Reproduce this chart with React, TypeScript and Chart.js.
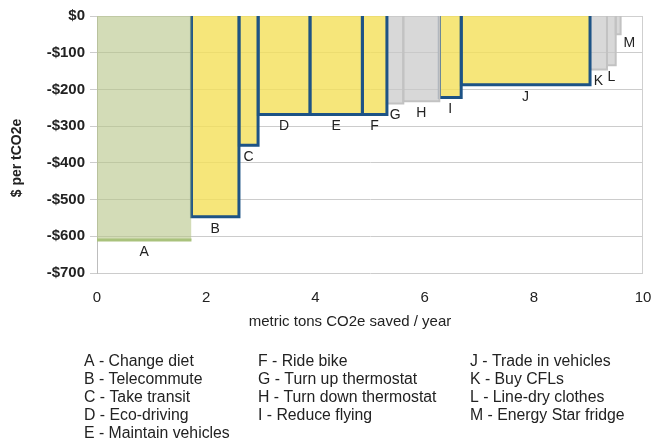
import React, { useEffect, useRef } from "react";
import { Chart, registerables } from "chart.js";

Chart.register(...registerables);

// ---- data ----
const letters = ["A", "B", "C", "D", "E", "F", "G", "H", "I", "J", "K", "L", "M"];
const actions = [
  "Change diet",
  "Telecommute",
  "Take transit",
  "Eco-driving",
  "Maintain vehicles",
  "Ride bike",
  "Turn up thermostat",
  "Turn down thermostat",
  "Reduce flying",
  "Trade in vehicles",
  "Buy CFLs",
  "Line-dry clothes",
  "Energy Star fridge",
];
// tCO2e saved per year (bar widths)
const savings = [1.73, 0.87, 0.35, 0.95, 0.96, 0.45, 0.3, 0.66, 0.4, 2.36, 0.31, 0.16, 0.09];
// $ per tCO2e (bar heights)
const costs = [-610, -547, -352, -268, -268, -268, -238, -232, -222, -187, -146, -134, -50];
const groups = ["diet", "travel", "travel", "travel", "travel", "travel", "home", "home", "travel", "travel", "home", "home", "home"];
const yTickValues = [0, -100, -200, -300, -400, -500, -600, -700];
const xTickValues = [0, 2, 4, 6, 8, 10];
const yTitle = "$ per tCO2e";
const xTitle = "metric tons CO2e saved / year";
const legendColumns = [
  [0, 1, 2, 3, 4],
  [5, 6, 7, 8],
  [9, 10, 11, 12],
];

const FONT = "'Liberation Sans', Arial, sans-serif";

const styles: Record<string, { fill: string; border: string; width: number }> = {
  diet: { fill: "rgba(182,197,135,0.6)", border: "#a9c27c", width: 3 },
  travel: { fill: "rgba(244,224,89,0.8)", border: "#1d5386", width: 3 },
  home: { fill: "rgba(200,200,200,0.7)", border: "#c2c2c2", width: 2 },
};

function starts(): number[] {
  const s: number[] = [];
  let acc = 0;
  for (const w of savings) {
    s.push(acc);
    acc += w;
  }
  return s;
}

export default function App() {
  const ref = useRef<HTMLCanvasElement | null>(null);

  useEffect(() => {
    const canvas = ref.current;
    if (!canvas) return;
    const st = starts();

    const datasets = savings.map((w, i) => {
      const x0 = st[i];
      const x1 = x0 + w;
      const v = costs[i];
      const s = styles[groups[i]];
      const data =
        groups[i] === "diet"
          ? [
              { x: x0, y: v },
              { x: x1, y: v },
            ]
          : [
              { x: x0, y: 0 },
              { x: x0, y: v },
              { x: x1, y: v },
              { x: x1, y: 0 },
            ];
      return {
        label: letters[i],
        data,
        backgroundColor: s.fill,
        borderColor: s.border,
        borderWidth: s.width,
        fill: "origin",
        pointRadius: 0,
        tension: 0,
        borderJoinStyle: "miter" as const,
        borderCapStyle: "butt" as const,
      };
    });

    const framePlugin = {
      id: "frame",
      beforeDatasetsDraw(chart: any) {
        const { ctx, chartArea: a } = chart;
        ctx.save();
        ctx.strokeStyle = "#cfcfcf";
        ctx.lineWidth = 1;
        ctx.beginPath();
        ctx.moveTo(Math.round(a.left) + 0.5, Math.round(a.top) + 0.5);
        ctx.lineTo(Math.round(a.right) - 0.5, Math.round(a.top) + 0.5);
        ctx.lineTo(Math.round(a.right) - 0.5, Math.round(a.bottom) + 0.5);
        ctx.stroke();
        ctx.restore();
      },
    };

    const textPlugin = {
      id: "texts",
      afterDatasetsDraw(chart: any) {
        const { ctx } = chart;
        const xs = chart.scales.x;
        const ys = chart.scales.y;
        ctx.save();
        ctx.fillStyle = "#222";
        ctx.font = `14px ${FONT}`;
        ctx.textBaseline = "middle";
        savings.forEach((w, i) => {
          const x0 = st[i];
          const x1 = x0 + w;
          const yp = ys.getPixelForValue(costs[i]);
          if (i === savings.length - 1) {
            ctx.textAlign = "left";
            ctx.fillText(letters[i], xs.getPixelForValue(x1) + 3, yp + 9);
          } else {
            ctx.textAlign = "center";
            ctx.fillText(letters[i], xs.getPixelForValue((x0 + x1) / 2), yp + 12);
          }
        });
        ctx.restore();
      },
      afterDraw(chart: any) {
        const { ctx } = chart;
        ctx.save();
        ctx.fillStyle = "#222";
        // y title
        ctx.font = `bold 14px ${FONT}`;
        ctx.textAlign = "center";
        ctx.textBaseline = "middle";
        ctx.translate(17, 158);
        ctx.rotate(-Math.PI / 2);
        ctx.fillText(yTitle, 0, 0);
        ctx.restore();

        ctx.save();
        ctx.fillStyle = "#222";
        ctx.font = `15px ${FONT}`;
        ctx.textAlign = "center";
        ctx.textBaseline = "middle";
        ctx.fillText(xTitle, 350, 322);

        // legend
        ctx.font = `15.8px ${FONT}`;
        ctx.textAlign = "left";
        const colX = [84, 258, 470];
        legendColumns.forEach((col, c) => {
          col.forEach((idx, r) => {
            ctx.fillText(`${letters[idx]} - ${actions[idx]}`, colX[c], 362 + r * 18);
          });
        });
        ctx.restore();
      },
    };

    const chart = new Chart(canvas, {
      type: "line",
      data: { datasets: datasets as any },
      options: {
        animation: false,
        responsive: false,
        maintainAspectRatio: false,
        layout: { padding: { left: 0, top: 16, right: 10, bottom: 130 } },
        plugins: {
          legend: { display: false },
          tooltip: { enabled: false },
        },
        scales: {
          x: {
            type: "linear",
            min: 0,
            max: 10,
            afterFit: (s: any) => {
              s.height = 40;
              s.paddingRight = 0;
              s.paddingLeft = 0;
            },
            afterBuildTicks: (s: any) => {
              s.ticks = xTickValues.map((v) => ({ value: v }));
            },
            grid: { display: false, drawTicks: false },
            border: { display: false },
            ticks: {
              padding: 16,
              color: "#222",
              font: { family: FONT, size: 15 },
              maxRotation: 0,
            },
          },
          y: {
            type: "linear",
            min: -700,
            max: 0,
            afterFit: (s: any) => {
              s.width = 97;
              s.paddingTop = 0;
              s.paddingBottom = 0;
            },
            afterBuildTicks: (s: any) => {
              s.ticks = yTickValues.map((v) => ({ value: v }));
            },
            grid: { color: "#cccccc", tickLength: 7, tickColor: "#cccccc", lineWidth: 1 },
            border: { display: true, color: "#bdbdbd" },
            ticks: {
              padding: 5,
              color: "#222",
              font: { family: FONT, size: 15, weight: "bold" },
              callback: (v: any) => (Number(v) === 0 ? "$0" : `-$${Math.abs(Number(v))}`),
            },
          },
        },
      },
      plugins: [framePlugin, textPlugin],
    });

    return () => chart.destroy();
  }, []);

  return (
    <div style={{ position: "absolute", left: 0, top: 0, width: 653, height: 443, background: "#fff" }}>
      <canvas ref={ref} width={653} height={443} style={{ display: "block" }} />
    </div>
  );
}
